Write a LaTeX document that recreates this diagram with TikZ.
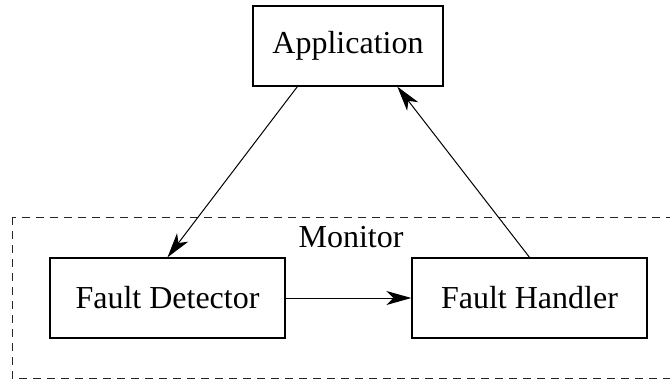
\documentclass[tikz,border=0pt]{standalone}
\usepackage{fontspec}
\setmainfont{Liberation Serif}
\usetikzlibrary{arrows.meta,calc}
\begin{document}
\begin{tikzpicture}[x=1pt,y=1pt,
  box/.style={draw,line width=1.3pt,inner sep=0pt,minimum height=80pt,
    font=\fontsize{32}{38}\selectfont},
  flow/.style={line width=1pt,-{Stealth[length=25pt,width=14pt,inset=7pt]}},
  frame/.style={draw=black!85,line width=1pt,dash pattern=on 8pt off 6pt}]
\useasboundingbox (0,0) rectangle (670,384);
\clip (0,0) rectangle (670,384);
% Monitor region, open past the right edge
\draw[frame] (12,167) rectangle (700,6);
\node[anchor=base,font=\fontsize{32}{38}\selectfont] (mon) at (351,137) {Monitor};
% Components
\node[box,minimum width=190pt] (app) at (348,338) {Application};
\node[box,minimum width=235pt] (det) at (167.5,86) {Fault Detector};
\node[box,minimum width=235pt] (han) at (529.5,86) {Fault Handler};
% Connections
\draw[flow] ($(app.south west)+(45,0)$) -- (det.north);
\draw[flow] (det.east) -- (han.west);
\draw[flow] (han.north) -- ($(app.south west)+(145,0)$);
\end{tikzpicture}
\end{document}
